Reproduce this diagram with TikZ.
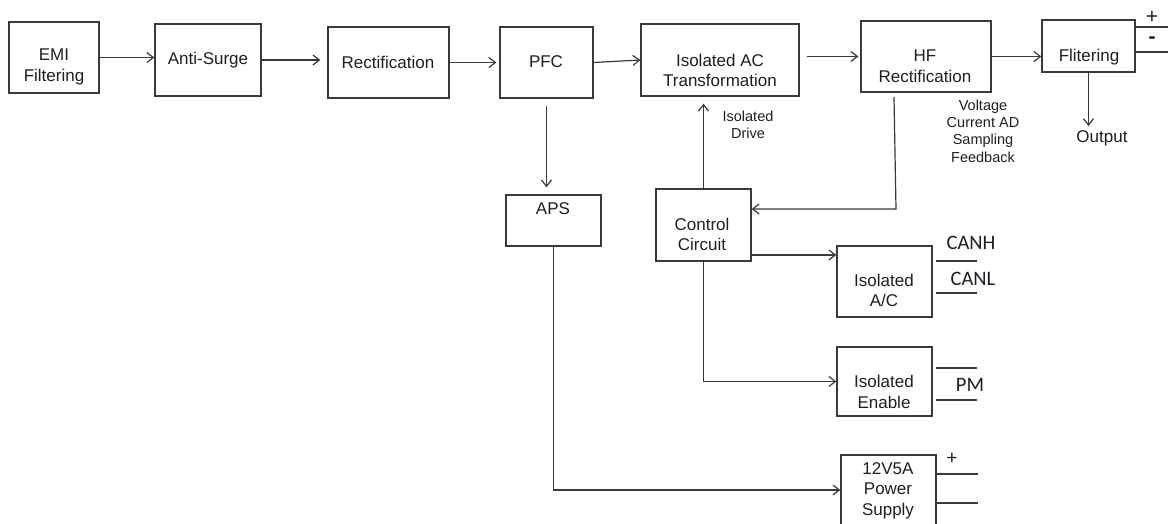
\documentclass[tikz,border=0pt]{standalone}
\usepackage{fontspec}
\setmainfont{Liberation Sans}
\newfontfamily\calfont{Carlito}
\usetikzlibrary{arrows.meta}
\definecolor{lnc}{HTML}{3A3A3A}
\definecolor{txc}{HTML}{1E1E28}
\tikzset{
  x=1pt, y=-1pt,
  blk/.style={draw=lnc, line width=1.3pt, rectangle, inner sep=0pt},
  lbl/.style={text=txc, align=center, inner sep=0pt, font=\fontsize{17}{20.5}\selectfont},
  small/.style={text=txc, align=center, inner sep=0pt, font=\fontsize{14.5}{17.3}\selectfont},
  cal/.style={text=txc, inner sep=0pt, font=\calfont\fontsize{20.5}{24}\selectfont},
  arr/.style={draw=lnc, line width=1.2pt, -{Straight Barb[length=6.5pt,width=10pt,line width=1.2pt]}},
  ln/.style={draw=lnc, line width=1.2pt}
}
\begin{document}
\begin{tikzpicture}
\useasboundingbox[fill=white] (0,0) rectangle (1168,523);
% boxes
\node[blk, minimum width=90pt,  minimum height=71pt] (emi)   at (54,57.5) {};
\node[blk, minimum width=106pt, minimum height=72pt] (anti)  at (208,60) {};
\node[blk, minimum width=121pt, minimum height=71pt] (rect)  at (388.5,62.5) {};
\node[blk, minimum width=93pt,  minimum height=71pt] (pfc)   at (546.5,62.5) {};
\node[blk, minimum width=158pt, minimum height=72pt] (iso)   at (720,60) {};
\node[blk, minimum width=130pt, minimum height=71pt] (hf)    at (926,56.5) {};
\node[blk, minimum width=93pt,  minimum height=52pt] (filt)  at (1088.5,46) {};
\node[blk, minimum width=95pt,  minimum height=51pt] (aps)   at (553.5,220.5) {};
\node[blk, minimum width=95pt,  minimum height=72pt] (ctrl)  at (703.5,225) {};
\node[blk, minimum width=95pt,  minimum height=71pt] (isoac) at (884.5,281.5) {};
\node[blk, minimum width=95pt,  minimum height=69pt] (isoen) at (884.5,381.5) {};
\node[blk, minimum width=95pt,  minimum height=85pt] (psu)   at (888.5,497.5) {};
% box texts
\node[lbl] (emiT)   at (54,67)    {EMI\\Filtering};
\node[lbl] (antiT)  at (208,60)   {Anti-Surge};
\node[lbl] (rectT)  at (388,62)   {Rectification};
\node[lbl] (pfcT)   at (546,62)   {PFC};
\node[lbl] (isoT)   at (720,70.5) {Isolated AC\\Transformation};
\node[lbl] (hfT)    at (925,66)   {HF\\Rectification};
\node[lbl] (filtT)  at (1089,57)  {Flitering};
\node[lbl] (apsT)   at (553,209)  {APS};
\node[lbl] (ctrlT)  at (702,234.5){Control\\Circuit};
\node[lbl] (isoacT) at (884,290.5){Isolated\\A/C};
\node[lbl] (isoenT) at (884,392)  {Isolated\\Enable};
\node[lbl] (psuT)   at (888,490.5){12V5A\\Power\\Supply};
% free labels
\node[small] (drv)  at (748,124.5) {Isolated\\Drive};
\node[small] (vfb)  at (983,131)   {Voltage\\Current AD\\Sampling\\Feedback};
\node[lbl]   (outT) at (1102,138)  {Output};
\node[cal] (canh) at (971,243) {CANH};
\node[cal] (canl) at (973,279) {CANL};
\node[cal] (pm)   at (970,385) {PM};
\node[cal] (pplus) at (952,459) {+};
\node[text=txc, inner sep=0pt, font=\fontsize{21}{24}\selectfont] (fplus) at (1152,17) {+};
\node[text=txc, inner sep=0pt, font=\bfseries\fontsize{21}{24}\selectfont] (fminus) at (1152,40) {-};
% main chain
\draw[arr] (emi.east) -- (emi.east -| anti.west);
\draw[arr, shorten >=7pt] (anti.east) -- (anti.east -| rect.west);
\draw[arr, shorten >=3pt] (rect.east) -- (rect.east -| pfc.west);
\draw[arr] (pfc.east) -- (iso.west);
\draw[arr, shorten <=7pt, shorten >=2pt] (iso.east |- hf.west) -- (hf.west);
\draw[arr] (hf.east) -- (hf.east -| filt.west);
\draw[arr, shorten >=4pt] (filt.south) -- (filt.south |- outT.north);
% vertical branches
\draw[arr, shorten <=7pt, shorten >=7pt] (pfc.south) -- (pfc.south |- aps.north);
\draw[arr, shorten >=7pt] (ctrl.north) -- (ctrl.north |- iso.south);
\coordinate (fbA) at (894,97);
\coordinate (fbB) at (896,209);
\draw[arr] (fbA) -- (fbB) -- ([yshift=16pt]ctrl.east);
\draw[arr] ([yshift=-30pt]ctrl.east) -- ([yshift=-30pt]ctrl.east -| isoac.west);
\draw[arr] (ctrl.south) |- (isoen.west);
\draw[arr] (aps.south) |- ([yshift=7.5pt]psu.west);
% terminal stubs
\draw[ln] (filt.east |- 0,27) -- (1168,27);
\draw[ln] (filt.east |- 0,52) -- (1168,52);
\draw[ln] (936,261) -- (977,261);
\draw[ln] (936,293) -- (977,293);
\draw[ln] (936,368) -- (977,368);
\draw[ln] (936,400) -- (977,400);
\draw[ln] (psu.east |- 0,474) -- (978,474);
\draw[ln] (psu.east |- 0,503) -- (978,503);
\end{tikzpicture}
\end{document}
